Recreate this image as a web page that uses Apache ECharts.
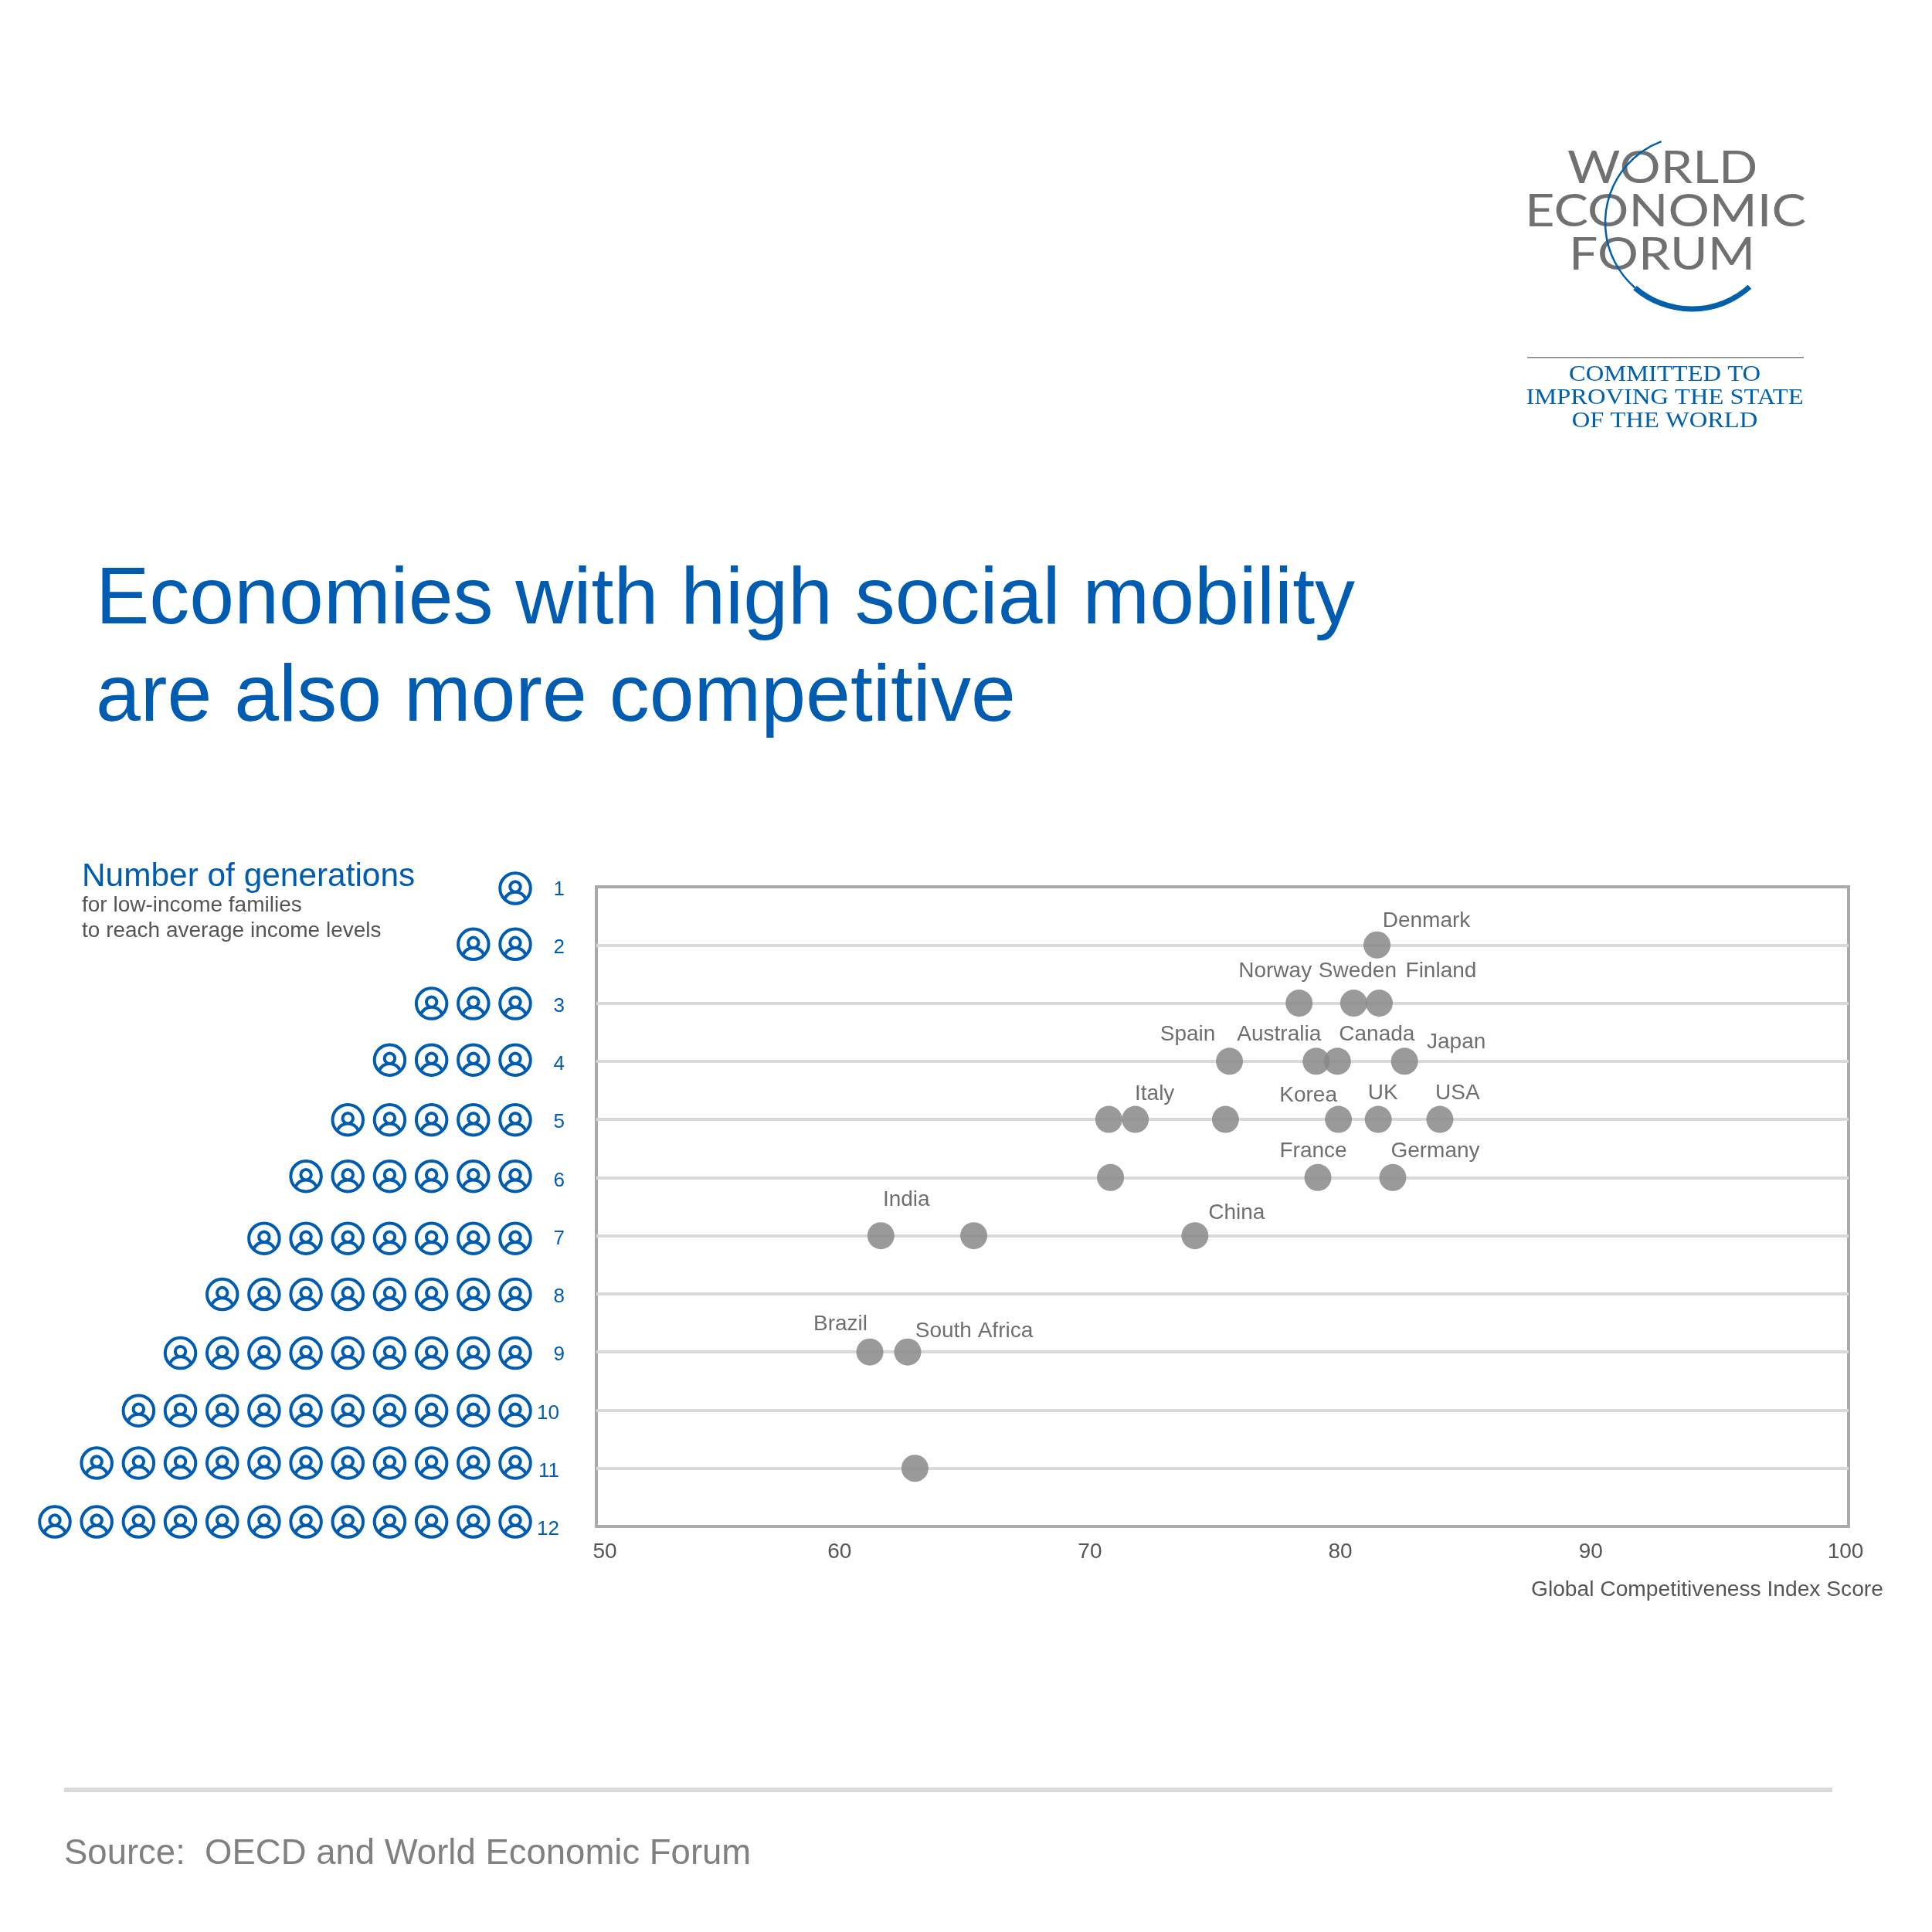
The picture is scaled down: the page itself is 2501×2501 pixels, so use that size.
<!DOCTYPE html>
<html lang="en">
<head>
    <meta charset="UTF-8">
    <title>Economies with high social mobility</title>
    <script src="https://cdn.jsdelivr.net/npm/echarts@6/dist/echarts.min.js"></script>
    <style>
        html, body { margin: 0; background: #fff; }
        #container { width: 2501px; height: 2501px; }
    </style>
</head>
<body>
<div id="container"></div>

<script>
    var countries = ['Denmark', 'Norway', 'Sweden', 'Finland', 'Spain', 'Australia', 'Canada', 'Japan',
        '', 'Italy', '', 'Korea', 'UK', 'USA', '', 'France', 'Germany',
        'India', '', 'China', 'Brazil', 'South Africa', ''];
    var scores = [81.17, 78.06, 80.24, 81.26, 75.28, 78.74, 79.59, 82.27,
        70.46, 71.52, 75.12, 79.63, 81.22, 83.68, 70.53, 78.81, 81.80,
        61.36, 65.07, 73.90, 60.92, 62.43, 62.72];
    var generations = [2, 3, 3, 3, 4, 4, 4, 4,
        5, 5, 5, 5, 5, 5, 6, 6, 6,
        7, 7, 7, 9, 9, 11];
    var generationRows = [1, 2, 3, 4, 5, 6, 7, 8, 9, 10, 11, 12];
    // the icon rows are not quite evenly spaced in the picture
    var iconRowCentres = [1, 1.97, 3, 3.98, 5.02, 6, 7.08, 8.05, 9.07, 10.07, 10.98, 12];

    // label offset from the dot, pixels
    var labelOffsets = {
        'Denmark': [64, -31], 'Norway': [-31, -41], 'Sweden': [5, -41], 'Finland': [80, -41],
        'Spain': [-54, -35], 'Australia': [-48, -35], 'Canada': [51, -35], 'Japan': [67, -25],
        'Italy': [25, -33], 'Korea': [-39, -31], 'UK': [6, -34], 'USA': [23, -34],
        'France': [-6, -34], 'Germany': [55, -34], 'India': [33, -46], 'China': [54, -29],
        'Brazil': [-38, -36], 'South Africa': [86, -27]
    };

    var BLUE = '#005cb0';
    var SANS = '"Liberation Sans", Arial, sans-serif';
    var personIcon = 'path://M50 0A50 50 0 1 1 50 100A50 50 0 1 1 50 0Z' +
        'M50 28A17 17 0 1 1 50 62A17 17 0 1 1 50 28Z' +
        'M15 85C22 70 36 62 50 62C64 62 78 70 85 85';

    var dots = scores.map(function (s, i) {
        var name = countries[i];
        var item = {value: [s, generations[i]], name: name};
        if (name) {
            item.label = {show: true, position: 'inside', formatter: name, offset: labelOffsets[name]};
        }
        return item;
    });

    var people = [];
    generationRows.forEach(function (row, r) {
        for (var n = 1; n <= row; n++) {
            people.push([n, iconRowCentres[r]]);
        }
    });

    function txt(text, x, y, size, fill, extra) {
        var style = {
            text: text, x: 0, y: 0, fill: fill,
            font: size + 'px ' + SANS, align: 'left', verticalAlign: 'middle'
        };
        var el = {type: 'text', x: x, y: y, style: style, silent: true};
        for (var k in (extra || {})) {
            if (k === 'scaleX') { el.scaleX = extra[k]; } else { style[k] = extra[k]; }
        }
        return el;
    }

    var logoGrey = '#6f7072';
    var logoBlue = '#0060ac';
    var logoSans = '58px Lato, sans-serif';
    var logoSerif = '30px "Liberation Serif", serif';
    var D2R = Math.PI / 180;

    var graphics = [
        // heading
        txt('Economies with high social mobility', 124, 778, 104, BLUE),
        txt('are also more competitive', 124, 904, 104, BLUE),
        // left block
        txt('Number of generations', 106, 1135, 42.4, BLUE),
        txt('for low-income families', 106, 1172, 28, '#555555'),
        txt('to reach average income levels', 106, 1205, 28, '#555555'),
        // axis name and source
        txt('Global Competitiveness Index Score', 1982, 2058, 28.2, '#555555'),
        txt('Source:  OECD and World Economic Forum', 83, 2400, 45.5, '#808080'),
        {type: 'rect', shape: {x: 83, y: 2314, width: 2289, height: 6}, style: {fill: '#d9d9d9'}, silent: true},
        // logo
        txt('WORLD', 2029, 218, 58, logoGrey, {font: logoSans, scaleX: 1.14}),
        txt('ECONOMIC', 1974, 274, 58, logoGrey, {font: logoSans, scaleX: 1.15}),
        txt('FORUM', 2031, 330, 58, logoGrey, {font: logoSans, scaleX: 1.14}),
        {type: 'arc', shape: {cx: 2190, cy: 288, r: 112, startAngle: 131 * D2R, endAngle: 249.4 * D2R, clockwise: true},
            style: {stroke: logoBlue, lineWidth: 2.5, fill: 'none'}, silent: true},
        {type: 'arc', shape: {cx: 2190, cy: 288, r: 112, startAngle: 48 * D2R, endAngle: 131 * D2R, clockwise: true},
            style: {stroke: logoBlue, lineWidth: 7, fill: 'none'}, silent: true},
        {type: 'rect', shape: {x: 1977, y: 462, width: 358, height: 1.5}, style: {fill: '#808080'}, silent: true},
        txt('COMMITTED TO', 2155, 485, 30, logoBlue, {font: logoSerif, align: 'center', scaleX: 1.085}),
        txt('IMPROVING THE STATE', 2155, 515, 30, logoBlue, {font: logoSerif, align: 'center', scaleX: 1.085}),
        txt('OF THE WORLD', 2155, 545, 30, logoBlue, {font: logoSerif, align: 'center', scaleX: 1.085})
    ];

    var myChart = echarts.init(document.getElementById('container'));
    var option = {
        animation: false,
        backgroundColor: '#fff',
        grid: [
            {left: 772, top: 1148, width: 1621, height: 828, show: true,
                borderColor: '#aaaaaa', borderWidth: 4, backgroundColor: 'transparent'},
            {left: 71, top: 1150, width: 596, height: 820}
        ],
        xAxis: [
            {
                gridIndex: 0, type: 'value', min: 50, max: 100, interval: 10,
                axisLine: {show: false}, axisTick: {show: false}, splitLine: {show: false},
                axisLabel: {
                    color: '#555555', fontSize: 28, fontFamily: SANS, margin: 19,
                    formatter: function (v) {
                        if (v === 50) return '{first|' + v + '}';
                        if (v === 100) return '{last|' + v + '}';
                        return '{mid|' + v + '}';
                    },
                    rich: {
                        first: {color: '#555555', fontSize: 28, fontFamily: SANS, padding: [0, 0, 0, 22]},
                        mid: {color: '#555555', fontSize: 28, fontFamily: SANS, padding: [0, 19, 0, 0]},
                        last: {color: '#555555', fontSize: 28, fontFamily: SANS, padding: [0, 8, 0, 0]}
                    }
                }
            },
            {gridIndex: 1, type: 'value', min: 1, max: 12, inverse: true, show: false}
        ],
        yAxis: [
            {
                gridIndex: 0, type: 'value', min: 1, max: 12, interval: 1, inverse: true,
                axisLine: {show: false}, axisTick: {show: false},
                splitLine: {show: true, showMinLine: false, showMaxLine: false,
                    lineStyle: {color: '#d9d9d9', width: 4}},
                axisLabel: {
                    margin: 41, padding: [8, 0, 0, 0], color: BLUE, fontSize: 26, fontFamily: SANS,
                    formatter: function (v) {
                        return v >= 10 ? '{two|' + v + '}' : '' + v;
                    },
                    rich: {two: {color: BLUE, fontSize: 26, fontFamily: SANS, padding: [0, 7, 0, 0]}}
                }
            },
            {gridIndex: 1, type: 'value', min: 1, max: 12, inverse: true, show: false}
        ],
        series: [
            {
                name: 'Economies', type: 'scatter', xAxisIndex: 0, yAxisIndex: 0,
                symbolSize: 35, clip: false, data: dots,
                itemStyle: {color: '#888888', opacity: 0.85},
                label: {color: '#555555', fontSize: 28, fontFamily: SANS}
            },
            {
                name: 'Generations', type: 'scatter', xAxisIndex: 1, yAxisIndex: 1,
                symbol: personIcon, symbolSize: 39.5, clip: false, data: people,
                itemStyle: {color: 'rgba(0,0,0,0)', borderColor: BLUE, borderWidth: 4, opacity: 1}
            }
        ],
        graphic: {elements: graphics}
    };
    myChart.setOption(option);
</script>
</body>
</html>
